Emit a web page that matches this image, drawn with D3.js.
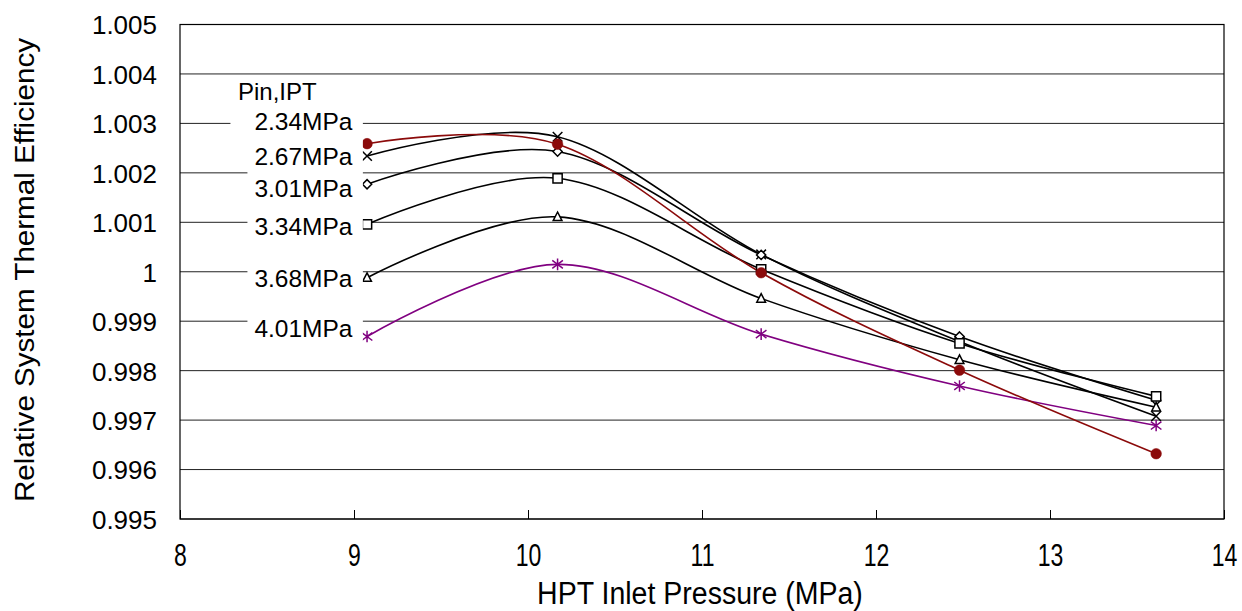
<!DOCTYPE html>
<html>
<head>
<meta charset="utf-8">
<script src="https://cdn.jsdelivr.net/npm/d3@7"></script>
<style>
  html, body { margin: 0; padding: 0; background: #fff; }
  svg { display: block; }
  text { font-family: "Liberation Sans", Arial, sans-serif; fill: #000; }
</style>
</head>
<body>
<svg id="chart" width="1242" height="611"></svg>
<script>
// HPT inlet pressure (MPa) at which each case was evaluated
const inletPressure = [9.075, 10.17, 11.34, 12.48, 13.61];

// IPT inlet pressure cases (legend names)
const caseNames = ["2.34MPa", "2.67MPa", "3.01MPa", "3.34MPa", "3.68MPa", "4.01MPa"];

// Relative system thermal efficiency for each IPT inlet pressure case
const eff234 = [1.00259, 1.00258, 0.99998, 0.99801, 0.99632];
const eff267 = [1.00234, 1.00273, 1.00035, 0.99859, 0.99708];
const eff301 = [1.00177, 1.00243, 1.00034, 0.99869, 0.99740];
const eff334 = [1.00096, 1.00189, 1.00005, 0.99855, 0.99748];
const eff368 = [0.99988, 1.00111, 0.99946, 0.99822, 0.99726];
const eff401 = [0.99869, 1.00015, 0.99874, 0.99769, 0.99689];

// Axis tick values
const xTicks = [8, 9, 10, 11, 12, 13, 14];
const yTicks = [0.995, 0.996, 0.997, 0.998, 0.999, 1, 1.001, 1.002, 1.003, 1.004, 1.005];

const seriesValues = [eff234, eff267, eff301, eff334, eff368, eff401];
const seriesStyle = [
  { color: "#8b0a0a", marker: "circle" },
  { color: "#000000", marker: "x" },
  { color: "#000000", marker: "diamond" },
  { color: "#000000", marker: "square" },
  { color: "#000000", marker: "triangle" },
  { color: "#800080", marker: "star" }
];

// legend label layout (text baseline, left padding of the white box)
const labelBaseline = [130, 165, 197, 235, 287, 337];
const labelPadLeft = [24, 24, 7, 7, 7, 7];

const svg = d3.select("#chart");
const W = 1242, H = 611;
const plot = { left: 180, right: 1224, top: 24.5, bottom: 519 };

svg.append("rect").attr("width", W).attr("height", H).attr("fill", "#fff");

const x = d3.scaleLinear().domain([8, 14]).range([plot.left, plot.right]);
const y = d3.scaleLinear().domain([0.995, 1.005]).range([plot.bottom, plot.top]);

// horizontal gridlines
svg.append("g")
  .selectAll("line")
  .data(yTicks)
  .join("line")
  .attr("x1", plot.left).attr("x2", plot.right)
  .attr("y1", d => y(d)).attr("y2", d => y(d))
  .attr("stroke", "#222").attr("stroke-width", 1);

// plot frame
svg.append("rect")
  .attr("x", plot.left).attr("y", plot.top)
  .attr("width", plot.right - plot.left).attr("height", plot.bottom - plot.top)
  .attr("fill", "none").attr("stroke", "#000").attr("stroke-width", 1.2);

// x axis: inward ticks, labels below
const xAxis = d3.axisBottom(x).tickValues(xTicks).tickSizeInner(-9).tickSizeOuter(0).tickFormat(d3.format("d"));
const gx = svg.append("g").attr("transform", `translate(0,${plot.bottom})`).call(xAxis);
gx.select(".domain").remove();
gx.selectAll(".tick line").attr("stroke", "#000").attr("stroke-width", 1);
gx.selectAll(".tick text").remove();
gx.selectAll(".tick").append("text")
  .attr("text-anchor", "middle")
  .attr("transform", "translate(0,47) scale(0.72,1)")
  .style("font-size", "32px")
  .text(d => d3.format("d")(d));

// y axis labels
const yAxis = d3.axisLeft(y).tickValues(yTicks).tickSize(0).tickPadding(24)
  .tickFormat(d => d === 1 ? "1" : d3.format(".3f")(d));
const gy = svg.append("g").attr("transform", `translate(${plot.left},0)`).call(yAxis);
gy.select(".domain").remove();
gy.selectAll(".tick text")
  .attr("x", -23)
  .attr("dy", "0.36em")
  .style("font-size", "26px")
  .style("font-family", "'Liberation Sans', Arial, sans-serif")
  .attr("fill", "#000");

// axis titles
svg.append("text")
  .attr("x", 700).attr("y", 604)
  .attr("text-anchor", "middle")
  .attr("transform", "translate(700,0) scale(0.92,1) translate(-700,0)")
  .style("font-size", "31px")
  .text("HPT Inlet Pressure (MPa)");

svg.append("text")
  .attr("transform", "translate(34,270) rotate(-90)")
  .attr("text-anchor", "middle")
  .style("font-size", "27px")
  .attr("textLength", 464)
  .attr("lengthAdjust", "spacingAndGlyphs")
  .text("Relative System Thermal Efficiency");

// series lines (smoothed) and markers
const line = d3.line()
  .x((d, i) => x(inletPressure[i]))
  .y(d => y(d))
  .curve(d3.curveCardinal.tension(0));

const drawOrder = [1, 2, 3, 4, 5, 0];
const lineLayer = svg.append("g");
const markerLayer = svg.append("g");

function markerPath(type, s) {
  switch (type) {
    case "x":
      return `M${-s},${-s}L${s},${s}M${-s},${s}L${s},${-s}`;
    case "diamond":
      return `M0,${-s}L${s},0L0,${s}L${-s},0Z`;
    case "square":
      return `M${-s},${-s}H${s}V${s}H${-s}Z`;
    case "triangle":
      return `M0,${-s * 1.05}L${s * 0.95},${s * 0.8}L${-s * 0.95},${s * 0.8}Z`;
    case "star":
      return `M${-s},${-s * 0.75}L${s},${s * 0.75}M${-s},${s * 0.75}L${s},${-s * 0.75}M0,${-s * 1.1}V${s * 1.1}`;
  }
  return "";
}

drawOrder.forEach(k => {
  const vals = seriesValues[k];
  const st = seriesStyle[k];
  lineLayer.append("path")
    .datum(vals)
    .attr("d", line)
    .attr("fill", "none")
    .attr("stroke", st.color)
    .attr("stroke-width", 1.6);

  const g = markerLayer.append("g");
  vals.forEach((v, i) => {
    const cx = x(inletPressure[i]), cy = y(v);
    if (st.marker === "circle") {
      g.append("circle").attr("cx", cx).attr("cy", cy).attr("r", 5.3)
        .attr("fill", st.color).attr("stroke", st.color).attr("stroke-width", 0.5);
    } else {
      const s = st.marker === "x" ? 4.8 : (st.marker === "star" ? 5.3 : 4.6);
      g.append("path")
        .attr("transform", `translate(${cx},${cy})`)
        .attr("d", markerPath(st.marker, s))
        .attr("fill", (st.marker === "x" || st.marker === "star") ? "none" : "#fff")
        .attr("stroke", st.color)
        .attr("stroke-width", 1.5);
    }
  });
});

// legend labels with white boxes
const labels = svg.append("g");
svg.append("text")
  .attr("x", 238).attr("y", 100)
  .style("font-size", "24px")
  .text("Pin,IPT");

caseNames.forEach((name, i) => {
  const t = labels.append("text")
    .attr("x", 352.5).attr("y", labelBaseline[i])
    .attr("text-anchor", "end")
    .style("font-size", "24.5px")
    .text(name);
  const bb = t.node().getBBox();
  labels.insert("rect", "text")
    .attr("x", bb.x - labelPadLeft[i])
    .attr("y", bb.y - 3)
    .attr("width", bb.width + labelPadLeft[i] + 10)
    .attr("height", bb.height + 4)
    .attr("fill", "#fff");
});
labels.raise();
</script>
</body>
</html>
